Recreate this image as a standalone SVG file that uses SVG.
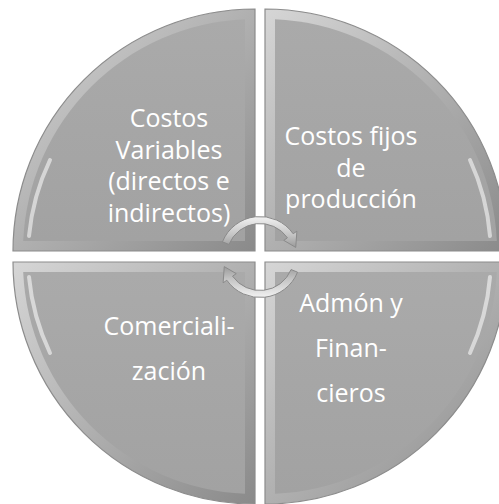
<svg xmlns="http://www.w3.org/2000/svg" width="499" height="504" viewBox="0 0 499 504">
<defs>
<linearGradient id="bev" x1="0" y1="0" x2="1" y2="1">
<stop offset="0" stop-color="#d6d6d6"/>
<stop offset="0.5" stop-color="#b0b0b0"/>
<stop offset="1" stop-color="#8a8a8a"/>
</linearGradient>
<linearGradient id="face" x1="0" y1="0" x2="0" y2="1">
<stop offset="0" stop-color="#aaaaaa"/>
<stop offset="1" stop-color="#a2a2a2"/>
</linearGradient>
<linearGradient id="arw" x1="0" y1="0" x2="0" y2="1">
<stop offset="0" stop-color="#f2f2f2"/>
<stop offset="0.6" stop-color="#c4c4c4"/>
<stop offset="1" stop-color="#9a9a9a"/>
</linearGradient>
<style>
.outer{fill:url(#bev);stroke:#8c8c8c;stroke-width:1.2}
.inner{fill:url(#face)}
.sheen{fill:none;stroke:#ffffff;stroke-width:4;stroke-opacity:0.55;stroke-linecap:round}
.lbl{font-family:"Open Sans","Liberation Sans",sans-serif;font-size:25px;fill:#ffffff;text-anchor:middle}
.arrow{fill:url(#arw);stroke:#8a8a8a;stroke-width:1}
</style>
</defs>
<rect width="499" height="504" fill="#ffffff"/>

<g id="node-tl">
<path class="outer" d="M255 251 L13 251 A242 242 0 0 1 255 9 Z"/>
<path class="inner" d="M245 241 L23.2 241 A232 232 0 0 1 245 19.2 Z"/>
<path class="sheen" d="M29 236 A226 226 0 0 1 50 160"/>
<text class="lbl" x="169" y="127">Costos</text>
<text class="lbl" x="169" y="158.5">Variables</text>
<text class="lbl" x="169" y="190">(directos e</text>
<text class="lbl" x="169" y="222">indirectos)</text>
</g>

<g id="node-tr">
<path class="outer" d="M265 251 L265 9 A242 242 0 0 1 507 251 Z"/>
<path class="inner" d="M275 241 L275 19.2 A232 232 0 0 1 496.8 241 Z"/>
<path class="sheen" d="M490 236 A226 226 0 0 0 470 160"/>
<text class="lbl" x="351" y="145">Costos fijos</text>
<text class="lbl" x="351" y="177">de</text>
<text class="lbl" x="351" y="208">producción</text>
</g>

<g id="node-bl">
<path class="outer" d="M255 262 L255 504 A242 242 0 0 1 13 262 Z"/>
<path class="inner" d="M245 272 L245 493.8 A232 232 0 0 1 23.2 272 Z"/>
<path class="sheen" d="M29 277 A226 226 0 0 0 50 353"/>
<text class="lbl" x="169" y="335">Comerciali-</text>
<text class="lbl" x="169" y="380">zación</text>
</g>

<g id="node-br">
<path class="outer" d="M265 262 L507 262 A242 242 0 0 1 265 504 Z"/>
<path class="inner" d="M275 272 L496.8 272 A232 232 0 0 1 275 493.8 Z"/>
<path class="sheen" d="M490 277 A226 226 0 0 1 470 353"/>
<text class="lbl" x="351" y="312">Admón y</text>
<text class="lbl" x="351" y="357">Finan-</text>
<text class="lbl" x="351" y="402">cieros</text>
</g>

<g id="connectors">
<path class="arrow" d="M222.45 241.83 A40.5 40.5 0 0 1 293.18 233.77 L296.86 231.19 L295.74 247.42 L283.76 240.37 L287.44 237.79 A33.5 33.5 0 0 0 228.94 244.45 Z"/>
<path class="arrow" transform="rotate(180 260 257)" d="M222.45 241.83 A40.5 40.5 0 0 1 293.18 233.77 L296.86 231.19 L295.74 247.42 L283.76 240.37 L287.44 237.79 A33.5 33.5 0 0 0 228.94 244.45 Z"/>
</g>
</svg>
